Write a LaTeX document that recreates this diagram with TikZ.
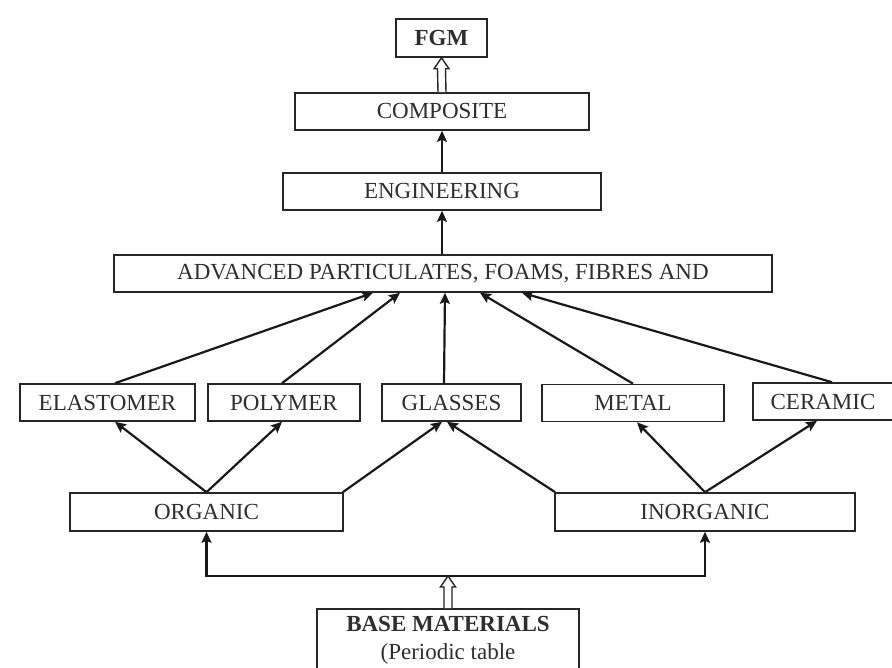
\documentclass[tikz,border=0pt]{standalone}
\usepackage{fontspec}
\setmainfont{Liberation Serif}
\usetikzlibrary{arrows.meta,calc}
\begin{document}
\begin{tikzpicture}[x=1pt,y=-1pt,
  box/.style={draw=black!85,line width=1.6pt,minimum height=37pt,inner sep=0pt,
    font=\fontsize{23}{28}\selectfont,text=black!82},
  arr/.style={draw=black!90,line width=2.2pt,
    -{Stealth[length=11pt,width=10pt,inset=2pt]}},
  hollow/.style={draw=black!85,line width=1.4pt,fill=white,line join=miter}]
\useasboundingbox (0,0) rectangle (892,668);
\fill[white] (0,0) rectangle (892,668);
\clip (0,0) rectangle (892,668);

% nodes
\node[box,minimum width=91pt,minimum height=38pt,font=\fontsize{23}{28}\selectfont\bfseries] (fgm) at (441.5,38) {FGM};
\node[box,minimum width=294pt] (comp) at (442,111.5) {COMPOSITE};
\node[box,minimum width=318pt] (eng) at (442,191.5) {ENGINEERING};
\node[box,minimum width=658pt] (adv) at (443,273.5) {ADVANCED PARTICULATES, FOAMS, FIBRES AND};
\node[box,minimum width=175pt] (elast) at (107.5,402.5) {ELASTOMER};
\node[box,minimum width=152pt] (poly) at (284,402.5) {POLYMER};
\node[box,minimum width=139pt] (glass) at (451.5,402.5) {GLASSES};
\node[box,minimum width=182pt] (metal) at (633,403) {METAL};
\node[box,minimum width=140pt] (ceram) at (823,401.5) {CERAMIC};
\node[box,minimum width=273pt,minimum height=38pt] (org) at (206.5,512) {ORGANIC};
\node[box,minimum width=300pt,minimum height=38pt] (inorg) at (705,512) {INORGANIC};
\node[box,minimum width=262pt,minimum height=63pt,align=center] (base) at (448,640.5)
  {{\bfseries BASE MATERIALS}\\(Periodic table};

% hollow arrow COMPOSITE -> FGM
\draw[hollow] ($(comp.north)+(-4,0)$) -- ($(fgm.south)+(-4,11)$) -- ($(fgm.south)+(-7.5,11)$)
  -- (fgm.south) -- ($(fgm.south)+(7.5,11)$) -- ($(fgm.south)+(4,11)$) -- ($(comp.north)+(4,0)$);

% vertical chain
\draw[arr] (eng.north) -- (comp.south);
\draw[arr] (adv.north -| eng.south) -- (eng.south);

% materials -> advanced
\draw[arr] (elast.north -| 115,0) -- (adv.south -| 373,0);
\draw[arr] (poly.north -| 282,0) -- (adv.south -| 400,0);
\draw[arr] (glass.north -| 444,0) -- (adv.south -| 445,0);
\draw[arr] (metal.north) -- (adv.south -| 480,0);
\draw[arr] (ceram.north -| 832,0) -- (adv.south -| 522,0);

% organic / inorganic -> materials
\draw[arr] (org.north) -- (elast.south -| 115,0);
\draw[arr] (org.north) -- (poly.south -| 282,0);
\draw[arr] ($(org.north east)+(-1,0)$) -- (glass.south -| 442,0);
\draw[arr] ($(inorg.north west)+(1,0)$) -- (glass.south -| 447,0);
\draw[arr] (inorg.north) -- (metal.south -| 637,0);
\draw[arr] (inorg.north) -- (ceram.south -| 817,0);

% base -> bus
\coordinate (bus) at (base.north |- 0,576);
\draw[arr] (bus) -| (org.south);
\draw[arr] (bus) -| (inorg.south);
\draw[hollow] ($(base.north)+(-4,0)$) -- ($(bus)+(-4,11)$) -- ($(bus)+(-7.5,11)$)
  -- (bus) -- ($(bus)+(7.5,11)$) -- ($(bus)+(4,11)$) -- ($(base.north)+(4,0)$);
\end{tikzpicture}
\end{document}
